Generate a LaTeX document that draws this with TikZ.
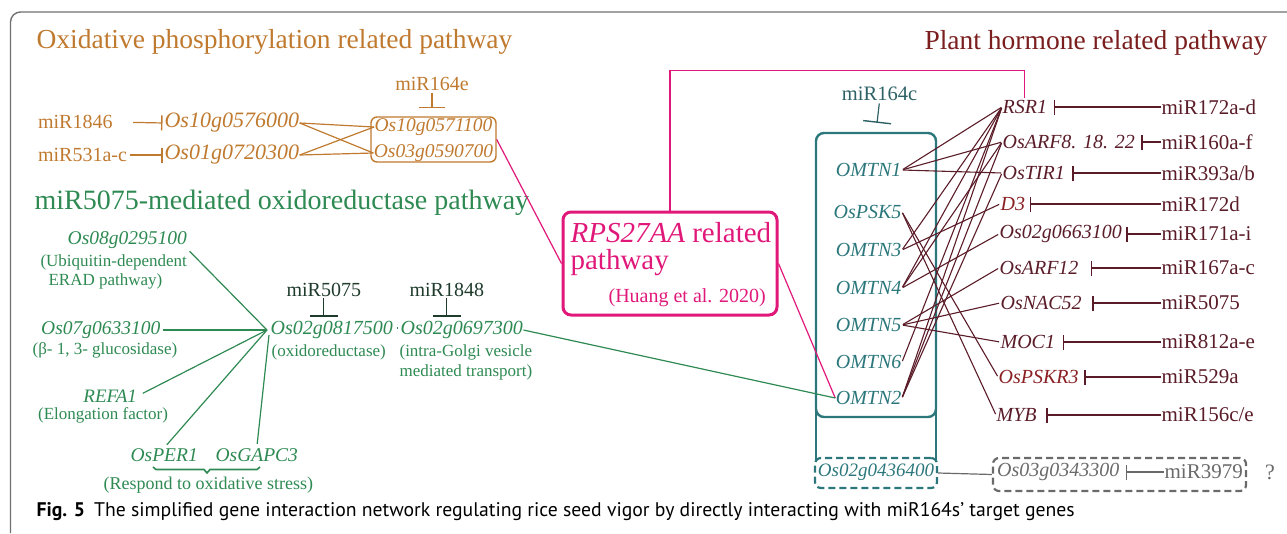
\documentclass[tikz,border=0pt]{standalone}
\usepackage{fontspec}
\setmainfont{Liberation Serif}
\newfontfamily\capfont{PT Sans}
\usetikzlibrary{calc,arrows.meta}
\newcommand\myfs[1]{\fontsize{#1pt}{#1pt}\selectfont}
\definecolor{orng}{HTML}{C07A30}
\definecolor{grn}{HTML}{2E8A52}
\definecolor{dgrn}{HTML}{1F3B2C}
\definecolor{mag}{HTML}{E0187A}
\definecolor{tealc}{HTML}{2B777B}
\definecolor{tealt}{HTML}{2D6165}
\definecolor{mar}{HTML}{5A1C28}
\definecolor{redb}{HTML}{8A2024}
\definecolor{hormt}{HTML}{7A1E1E}
\definecolor{frm}{HTML}{707070}
\definecolor{gry}{HTML}{6A6A6A}
\tikzset{
  gene/.style={inner sep=0pt, font=\myfs{20}\itshape},
  txt/.style={inner sep=0pt, font=\myfs{20}},
  desc/.style={inner sep=0pt, font=\myfs{17}},
  ttl/.style={inner sep=0pt, font=\myfs{27.5}},
  inh/.style={-{Bar[width=#1,line width=1.4pt]}},
  inh/.default=15pt,
}
\begin{document}
\begin{tikzpicture}[x=1pt,y=-1pt,line width=1.2pt]
\useasboundingbox (0,0) rectangle (1287,533);
% frame
\draw[frm,line width=1.4pt,rounded corners=10pt] (10.5,533) -- (10.5,12) -- (1287,12);

% ---------- Oxidative phosphorylation ----------
\node[ttl,anchor=west,text=orng] (t1) at (36,42) {Oxidative phosphorylation related pathway};
\node[txt,text=orng] (m164e) at (432,84) {miR164e};
\node[draw=orng,line width=1.4pt,rounded corners=6pt,minimum width=125pt,minimum height=45pt,inner sep=0pt] (obox) at (433.5,139.5) {};
\node[gene,text=orng,font=\myfs{19.5}\itshape] (g571) at (433.5,127) {Os10g0571100};
\node[gene,text=orng,font=\myfs{19.5}\itshape] (g590) at (433.5,153) {Os03g0590700};
\node[txt,anchor=west,text=orng] (m1846) at (37.5,122) {miR1846};
\node[txt,anchor=west,text=orng] (m531) at (37.5,155) {miR531a-c};
\node[gene,anchor=west,text=orng,font=\myfs{22}\itshape] (g576) at (164,123) {Os10g0576000};
\node[gene,anchor=west,text=orng,font=\myfs{22}\itshape] (g720) at (164,155) {Os01g0720300};
\draw[orng,inh,shorten <=20pt,shorten >=1.5pt] (m1846.east) -- (g576.west);
\draw[orng,inh,shorten <=2pt,shorten >=1.5pt] (m531.east) -- (g720.west);
\draw[orng,inh=26pt,shorten <=2pt,shorten >=8pt] (m164e.south) -- (m164e.south |- obox.north);
\draw[orng] (g576.east) -- (g571.west);
\draw[orng] (g576.east) -- (g590.west);
\draw[orng] (g720.east) -- (g571.west);
\draw[orng] (g720.east) -- (g590.west);

% ---------- miR5075 oxidoreductase ----------
\node[ttl,anchor=west,text=grn,font=\myfs{28}] (t3) at (34,203) {miR5075-mediated oxidoreductase pathway};
\node[gene,anchor=east,text=grn,font=\myfs{19.5}\itshape] (g08) at (187.5,240) {Os08g0295100};
\node[desc,anchor=east,text=grn] (d08a) at (187.5,262) {(Ubiquitin-dependent};
\node[desc,anchor=west,text=grn] (d08b) at (48,281) {ERAD pathway)};
\node[gene,anchor=east,text=grn,font=\myfs{19.5}\itshape] (g07) at (161,330) {Os07g0633100};
\node[desc,anchor=west,text=grn] (d07) at (32,350) {(β- 1, 3- glucosidase)};
\node[gene,anchor=east,text=grn,font=\myfs{19}\itshape] (refa) at (137.5,396) {REFA1};
\node[desc,anchor=west,text=grn] (drefa) at (37.5,415) {(Elongation factor)};
\node[gene,anchor=west,text=grn,font=\myfs{19.5}\itshape] (per) at (130,455) {OsPER1};
\node[gene,anchor=west,text=grn,font=\myfs{19.5}\itshape] (gapc) at (215,455) {OsGAPC3};
\node[desc,anchor=west,text=grn,font=\myfs{18}] (dresp) at (103,485) {(Respond to oxidative stress)};
\draw[grn,line width=1.6pt] (153,467) -- (156,469.5) -- (204,469.5) -- (207,473) -- (210,469.5) -- (257,469.5) -- (260,467);
\node[txt,anchor=west,text=dgrn] (m5075) at (286,290) {miR5075};
\node[txt,anchor=west,text=dgrn] (m1848) at (409,290) {miR1848};
\node[gene,anchor=west,text=grn] (g8175) at (270,330) {Os02g0817500};
\node[gene,anchor=west,text=grn] (g697) at (400,330) {Os02g0697300};
\node[desc,anchor=west,text=grn] (dox) at (271,352) {(oxidoreductase)};
\node[desc,anchor=west,text=grn] (dig1) at (399,352) {(intra-Golgi vesicle};
\node[desc,anchor=west,text=grn] (dig2) at (399,372) {mediated transport)};
\draw[dgrn,inh=28pt,shorten <=1pt,shorten >=4pt] (m5075.south) -- (m5075.south |- g8175.north);
\draw[dgrn,inh=28pt,shorten <=1pt,shorten >=4pt] (m1848.south) -- (m1848.south |- g697.north);
\draw[grn,shorten <=4pt,shorten >=2pt] ([yshift=2pt]g8175.east) -- ([yshift=2pt]g697.west);
\coordinate (hub) at (267,330);
\draw[grn,shorten <=3pt] (g08.south east) -- (hub);
\draw[grn,shorten <=2pt] (g07.east) -- (hub);
\draw[grn,shorten <=6pt] (refa.east) -- (hub);
\draw[grn,shorten <=4pt] (per.north) -- (hub);
\draw[grn,shorten <=4pt] (gapc.north) -- (269,335);

% ---------- RPS27AA ----------
\node[draw=mag,line width=3pt,rounded corners=8pt,minimum width=214pt,minimum height=103pt,inner sep=0pt] (rps) at (670,263.5) {};
\node[inner sep=0pt,anchor=north west,text=mag,font=\myfs{29},align=left] (rpsa) at (570,222) {\textit{RPS27AA} related\\[-2pt]pathway};
\node[inner sep=0pt,anchor=west,text=mag,font=\myfs{20}] (rpsc) at (608,298) {(Huang et al. 2020)};
\draw[mag] (obox.east) -- (rps.west);

% ---------- Plant hormone ----------
\node[ttl,anchor=east,text=hormt] (t2) at (1268,43) {Plant hormone related pathway};
\node[txt,text=tealt,font=\myfs{20.5}] (m164c) at (879.5,94) {miR164c};
\node[draw=tealc,line width=2.4pt,rounded corners=8pt,minimum width=120pt,minimum height=284pt,inner sep=0pt] (tbox) at (876,275) {};
\draw[tealc,line width=2.4pt] (816,405) -- (816,462) (936,405) -- (936,462);
\draw[tealt,inh=28pt,shorten <=2pt,shorten >=9pt] (m164c.south) -- (tbox.north);
\foreach \n/\t/\y in {o1/OMTN1/170, psk5/OsPSK5/212, o3/OMTN3/250, o4/OMTN4/288, o5/OMTN5/325, o6/OMTN6/362, o2/OMTN2/398}
  \node[gene,anchor=east,text=tealc] (\n) at (902,\y) {\t};
\node[draw=tealc,dashed,dash pattern=on 7pt off 4pt,line width=2.2pt,rounded corners=6pt,minimum width=122pt,minimum height=30pt,inner sep=0pt] (dbox) at (876,473) {};
\node[gene,text=tealc,font=\myfs{19}\itshape] (g436) at (876,472) {Os02g0436400};

\node[gene,anchor=west,text=mar] (rsr1) at (1002,107) {RSR1};
\node[gene,anchor=west,text=mar] (arf8) at (1002,142) {OsARF8. 18. 22};
\node[gene,anchor=west,text=mar] (tir1) at (1002,173) {OsTIR1};
\node[gene,anchor=west,text=redb] (d3) at (1000,204) {D3};
\node[gene,anchor=west,text=mar] (g663) at (999,234) {Os02g0663100};
\node[gene,anchor=west,text=mar] (arf12) at (999,268) {OsARF12};
\node[gene,anchor=west,text=mar] (nac52) at (1000,303) {OsNAC52};
\node[gene,anchor=west,text=mar] (moc1) at (1000,342) {MOC1};
\node[gene,anchor=west,text=redb] (pskr3) at (998,377) {OsPSKR3};
\node[gene,anchor=west,text=mar] (myb) at (996,415) {MYB};
\foreach \n/\t/\y in {r1/miR172a-d/107, r2/miR160a-f/142, r3/miR393a\slash b/173, r4/miR172d/204, r5/miR171a-i/234, r6/miR167a-c/268, r7/miR5075/303, r8/miR812a-e/342, r9/miR529a/377, r10/miR156c\slash e/415}
  \node[txt,anchor=west,text=mar,font=\myfs{21}] (\n) at (1161,\y) {\t};
\foreach \a/\b/\s in {r1/rsr1/6, r2/arf8/6, r3/tir1/7, r4/d3/4, r5/g663/4, r6/arf12/12, r7/nac52/10, r8/moc1/7, r9/pskr3/5, r10/myb/9}
  \draw[mar,inh=15pt,shorten >=\s pt] (\a.west) -- (\b.east);
\foreach \a/\b in {o1/rsr1, o1/arf8, o1/tir1, psk5/pskr3, psk5/myb, o3/rsr1, o3/d3, o4/rsr1, o4/arf8, o4/g663, o5/arf12, o5/nac52, o5/moc1, o6/rsr1, o2/rsr1, o2/arf8, o2/tir1}
  \draw[mar,line width=1.1pt,shorten <=1pt,shorten >=1pt] (\a.east) -- (\b.west);

\draw[mag] (rps.north) -- ++(0,-140) -| ([yshift=2pt]rsr1.north);
\draw[mag] (rps.east) -- (o2.west);
\draw[grn] (g697.east) -- (o2.west);

\node[draw=gry,dashed,dash pattern=on 7pt off 4pt,line width=2.2pt,rounded corners=6pt,minimum width=253pt,minimum height=33pt,inner sep=0pt] (gbox) at (1119.5,474.5) {};
\node[gene,anchor=west,text=gry] (g343) at (996.5,472) {Os03g0343300};
\node[txt,anchor=west,text=gry,font=\myfs{21}] (m3979) at (1164,472) {miR3979};
\draw[gry,inh=15pt,shorten >=6pt] (m3979.west) -- (g343.east);
\draw[gry] (dbox.east) -- (gbox.west);
\node[txt,text=gry,font=\myfs{22}] (q) at (1270,472) {?};

% caption
\node[inner sep=0pt,anchor=west,font=\capfont\myfs{19.7}] (cap) at (36,512) {\textbf{Fig. 5}\hspace{9pt}The simplified gene interaction network regulating rice seed vigor by directly interacting with miR164s’ target genes};
\end{tikzpicture}
\end{document}
